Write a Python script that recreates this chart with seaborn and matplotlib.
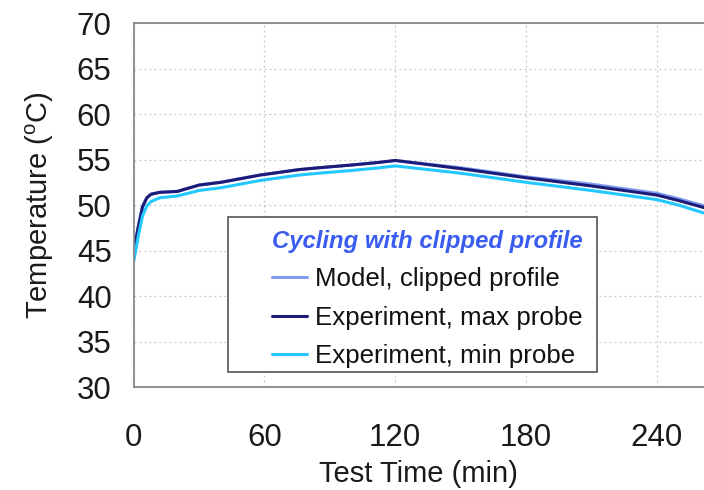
import numpy as np
import pandas as pd
import matplotlib
matplotlib.use("Agg")
import matplotlib.pyplot as plt
from matplotlib.patches import Rectangle
import seaborn as sns

# values
t_max = [0, 2, 4, 6, 8, 12, 20, 30, 40, 58, 76, 85, 100, 113, 120, 150, 180, 210, 240, 250, 262]
temp_max = [44.8, 47.5, 49.8, 50.8, 51.2, 51.4, 51.5, 52.2, 52.5, 53.3, 53.9, 54.1, 54.4, 54.7, 54.9,
            54.0, 53.0, 52.1, 51.1, 50.5, 49.7]
temp_min = [43.8, 46.5, 48.8, 49.9, 50.4, 50.8, 51.0, 51.6, 51.9, 52.7, 53.3, 53.5, 53.8, 54.1, 54.3,
            53.5, 52.5, 51.6, 50.6, 50.0, 49.1]
temp_model = [44.8, 47.6, 49.8, 50.8, 51.2, 51.4, 51.5, 52.2, 52.5, 53.3, 53.9, 54.1, 54.4, 54.7, 54.9,
              54.1, 53.1, 52.3, 51.3, 50.7, 49.9]

series = ["Model, clipped profile", "Experiment, max probe", "Experiment, min probe"]
colors = ["#7f9cf0", "#1c1c78", "#22c8ff"]

df = pd.concat([
    pd.DataFrame({"time": t_max, "temp": temp_model, "series": series[0]}),
    pd.DataFrame({"time": t_max, "temp": temp_max, "series": series[1]}),
    pd.DataFrame({"time": t_max, "temp": temp_min, "series": series[2]}),
])

sns.set_style("white")
plt.rcParams["font.family"] = ["Liberation Sans", "DejaVu Sans"]
plt.rcParams["mathtext.fontset"] = "custom"
plt.rcParams["mathtext.rm"] = "Liberation Sans"

fig = plt.figure(figsize=(7.04, 4.9), dpi=100)
ax = fig.add_axes([0.190, 0.210, 0.810, 0.743])

sns.lineplot(data=df, x="time", y="temp", hue="series", palette=colors,
             hue_order=series, linewidth=2.2, ax=ax)

ax.set_xlim(0, 261.7)
ax.set_ylim(30, 70)
ax.set_xticks([0, 60, 120, 180, 240])
ax.set_yticks(range(30, 71, 5))
ax.grid(True, color="#c8c8c8", linestyle=(0, (1.5, 2.5)), linewidth=0.9)
ax.tick_params(direction="out", length=9, width=1.2, colors="#777777",
               labelcolor="#1a1a1a", labelsize=22.5, pad=7)
ax.tick_params(axis="x", pad=17)
for side in ["left", "bottom", "top"]:
    ax.spines[side].set_color("#888888")
    ax.spines[side].set_linewidth(1.3)
ax.spines["right"].set_visible(False)

ax.set_xlabel("Test Time (min)", fontsize=21, color="#1a1a1a", labelpad=5)
ax.set_ylabel("Temperature ($^{\\mathrm{o}}$C)", fontsize=21, color="#1a1a1a", labelpad=15)

# legend box (wider left margin than matplotlib's uniform padding allows)
ax.add_patch(Rectangle((0.165, 0.041), 0.647, 0.426, transform=ax.transAxes,
                       facecolor="white", edgecolor="#555555", linewidth=1.2, zorder=4))

leg = ax.legend(title="Cycling with clipped profile", loc="upper left",
                bbox_to_anchor=(0.242, 0.431), borderaxespad=0, fontsize=18.6,
                frameon=False, handlelength=1.36, borderpad=0,
                labelspacing=0.55, handletextpad=0.3, alignment="left")
leg.set_zorder(5)
for txt in leg.get_texts():
    txt.set_color("#111111")
leg.get_title().set_fontsize(17.2)
leg.get_title().set_fontweight("bold")
leg.get_title().set_fontstyle("italic")
leg.get_title().set_color("#3a5cf0")

fig.savefig("out.png", dpi=100)
